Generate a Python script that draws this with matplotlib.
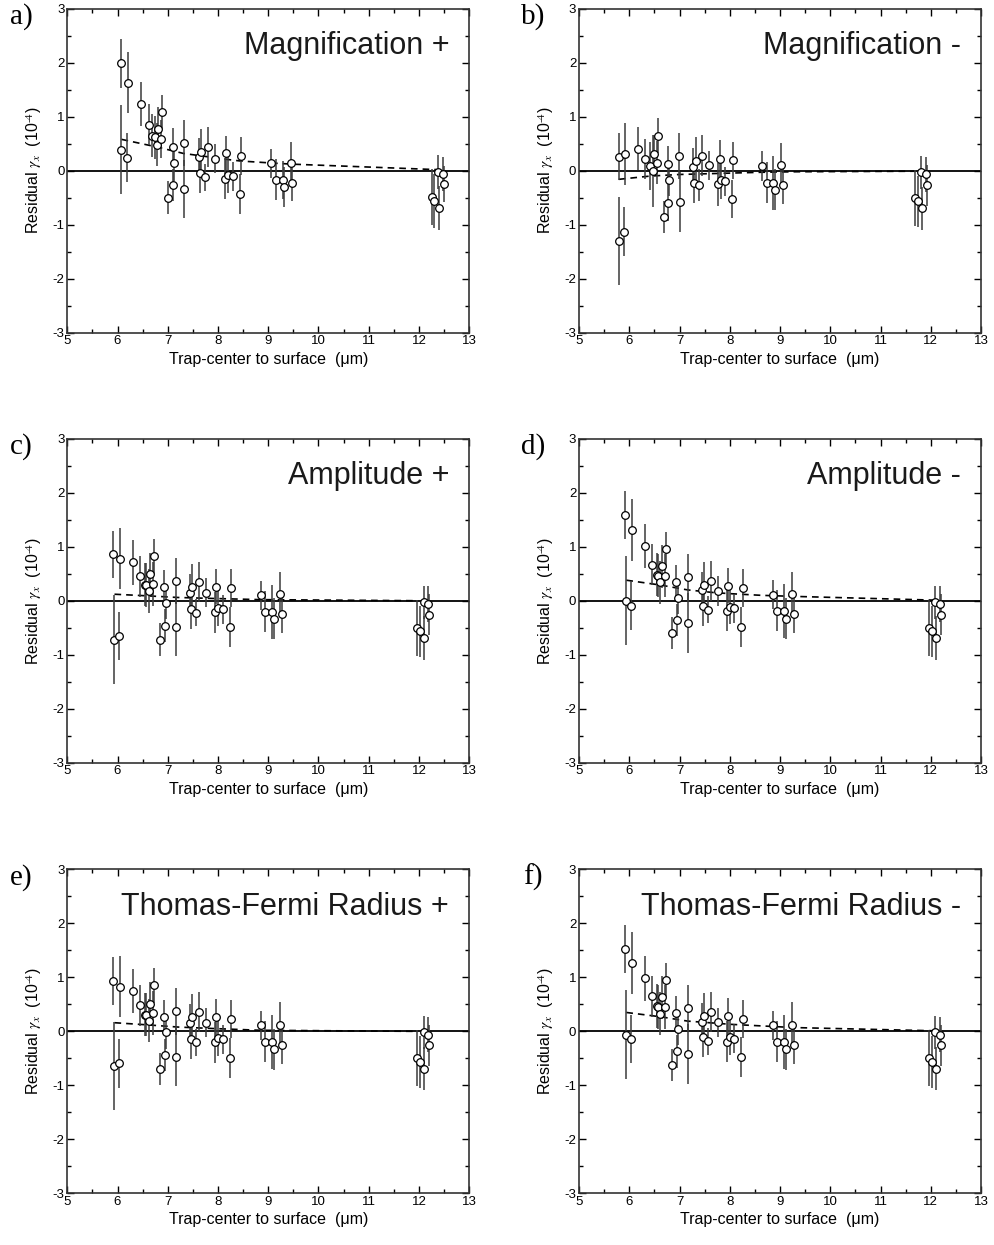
import numpy as np
import matplotlib
matplotlib.use("Agg")
import matplotlib.pyplot as plt
from matplotlib.ticker import MultipleLocator

plt.rcParams['font.family'] = ['Liberation Sans', 'DejaVu Sans']
plt.rcParams['mathtext.fontset'] = 'stix'
plt.rcParams['axes.unicode_minus'] = False

# ---- panel a) Magnification +
xa = [6.07, 6.20, 6.46, 6.62, 6.69, 6.74, 6.78, 6.81, 6.86, 6.88, 6.07, 6.18, 7.01, 7.10,
      7.10, 7.12, 7.32, 7.33, 7.63, 7.64, 7.67, 7.75, 7.81, 7.95, 8.14, 8.16, 8.20, 8.29,
      8.43, 8.45, 9.06, 9.16, 9.29, 9.32, 9.45, 9.48, 12.25, 12.30, 12.37, 12.39, 12.47, 12.50]
ya = [1.99, 1.63, 1.23, 0.85, 0.65, 0.62, 0.48, 0.78, 0.59, 1.09, 0.39, 0.24, -0.50, 0.44,
      -0.27, 0.15, 0.51, -0.34, 0.25, -0.05, 0.35, -0.12, 0.43, 0.22, -0.15, 0.32, -0.08, -0.10,
      -0.44, 0.27, 0.14, -0.17, -0.17, -0.31, 0.14, -0.23, -0.49, -0.56, -0.02, -0.69, -0.06, -0.25]
ea = [0.45, 0.57, 0.41, 0.38, 0.40, 0.40, 0.40, 0.40, 0.35, 0.32, 0.83, 0.45, 0.30, 0.35,
      0.30, 0.35, 0.43, 0.54, 0.35, 0.37, 0.43, 0.25, 0.37, 0.27, 0.38, 0.33, 0.33, 0.27,
      0.37, 0.35, 0.27, 0.38, 0.35, 0.37, 0.40, 0.33, 0.52, 0.50, 0.31, 0.40, 0.32, 0.33]
ma_x = [6.08, 6.78, 7.31, 8.17, 8.44, 9.10, 9.50, 12.35]
ma_y = [0.58, 0.44, 0.32, 0.21, 0.18, 0.14, 0.12, 0.02]

# ---- panel b) Magnification -
xb = [5.79, 5.79, 5.90, 5.92, 6.17, 6.31, 6.41, 6.47, 6.50, 6.55, 6.57, 6.69, 6.77, 6.77,
      6.79, 6.99, 7.00, 7.26, 7.28, 7.32, 7.39, 7.44, 7.58, 7.77, 7.80, 7.82, 7.91, 8.04,
      8.06, 8.64, 8.73, 8.86, 8.89, 9.02, 9.05, 11.69, 11.74, 11.81, 11.82, 11.90, 11.93]
yb = [-1.30, 0.26, -1.13, 0.31, 0.41, 0.21, 0.09, -0.01, 0.31, 0.15, 0.65, -0.86, -0.59, 0.13,
      -0.17, 0.27, -0.58, 0.07, -0.22, 0.18, -0.27, 0.28, 0.10, -0.25, 0.22, -0.17, -0.20, -0.52,
      0.19, 0.09, -0.22, -0.22, -0.35, 0.10, -0.27, -0.50, -0.57, -0.03, -0.70, -0.07, -0.27]
eb = [0.82, 0.44, 0.45, 0.57, 0.40, 0.37, 0.45, 0.67, 0.35, 0.40, 0.32, 0.30, 0.35, 0.32,
      0.30, 0.42, 0.55, 0.35, 0.38, 0.45, 0.30, 0.38, 0.27, 0.40, 0.35, 0.35, 0.27, 0.35,
      0.35, 0.28, 0.38, 0.50, 0.38, 0.42, 0.35, 0.52, 0.48, 0.30, 0.40, 0.33, 0.38]
mb_x = [5.79, 6.41, 7.00, 7.80, 8.60, 9.30, 11.69]
mb_y = [-0.16, -0.10, -0.07, -0.05, -0.03, -0.02, -0.01]

# ---- panels c) to f) share positions and error bars
x_cdef = [5.92, 5.93, 6.05, 6.03, 6.31, 6.45, 6.55, 6.57, 6.62, 6.65, 6.70, 6.72, 6.84, 6.93,
          6.94, 6.96, 7.16, 7.16, 7.44, 7.46, 7.49, 7.56, 7.63, 7.76, 7.95, 7.97, 8.00, 8.09,
          8.23, 8.26, 8.85, 8.94, 9.07, 9.11, 9.23, 9.27, 11.97, 12.02, 12.09, 12.10, 12.18, 12.20]
e_cdef = [0.44, 0.82, 0.57, 0.45, 0.41, 0.38, 0.40, 0.40, 0.40, 0.40, 0.40, 0.32, 0.30, 0.32,
          0.30, 0.30, 0.43, 0.55, 0.35, 0.37, 0.43, 0.25, 0.37, 0.27, 0.38, 0.33, 0.33, 0.27,
          0.37, 0.35, 0.27, 0.38, 0.50, 0.38, 0.42, 0.35, 0.52, 0.48, 0.30, 0.40, 0.33, 0.38]

yc = [0.86, -0.72, 0.78, -0.65, 0.71, 0.45, 0.30, 0.29, 0.18, 0.49, 0.31, 0.82, -0.72, 0.25,
      -0.46, -0.04, 0.36, -0.48, 0.14, -0.15, 0.25, -0.22, 0.34, 0.15, -0.21, 0.26, -0.14, -0.16,
      -0.49, 0.23, 0.10, -0.20, -0.20, -0.33, 0.12, -0.25, -0.50, -0.57, -0.03, -0.69, -0.06, -0.26]
mc_x = [5.94, 6.60, 7.20, 7.97, 8.85, 11.97]
mc_y = [0.12, 0.09, 0.06, 0.04, 0.02, 0.00]

yd = [1.59, 0.00, 1.31, -0.09, 1.01, 0.67, 0.48, 0.46, 0.34, 0.64, 0.46, 0.96, -0.60, 0.35,
      -0.36, 0.05, 0.43, -0.41, 0.19, -0.10, 0.29, -0.17, 0.37, 0.18, -0.19, 0.28, -0.11, -0.14,
      -0.48, 0.24, 0.11, -0.19, -0.19, -0.33, 0.12, -0.25, -0.50, -0.57, -0.03, -0.69, -0.06, -0.26]
md_x = [5.94, 6.62, 7.16, 7.69, 8.02, 8.62, 9.28, 12.10]
md_y = [0.38, 0.29, 0.20, 0.15, 0.13, 0.10, 0.08, 0.01]

ye = [0.93, -0.64, 0.83, -0.59, 0.75, 0.48, 0.31, 0.31, 0.20, 0.51, 0.34, 0.85, -0.70, 0.27,
      -0.44, -0.02, 0.37, -0.47, 0.15, -0.14, 0.26, -0.20, 0.35, 0.16, -0.20, 0.27, -0.13, -0.15,
      -0.49, 0.23, 0.11, -0.19, -0.19, -0.33, 0.12, -0.25, -0.49, -0.57, -0.02, -0.69, -0.06, -0.26]
me_x = [5.94, 6.60, 7.20, 7.97, 8.85, 11.97]
me_y = [0.16, 0.12, 0.08, 0.05, 0.02, 0.00]

yf = [1.53, -0.06, 1.27, -0.14, 0.98, 0.65, 0.47, 0.45, 0.33, 0.63, 0.45, 0.95, -0.62, 0.34,
      -0.37, 0.04, 0.43, -0.42, 0.18, -0.10, 0.28, -0.18, 0.36, 0.17, -0.19, 0.28, -0.10, -0.14,
      -0.48, 0.23, 0.11, -0.19, -0.19, -0.33, 0.12, -0.25, -0.49, -0.57, -0.02, -0.69, -0.06, -0.26]
mf_x = [5.94, 6.62, 7.16, 8.02, 9.28, 12.10]
mf_y = [0.35, 0.27, 0.19, 0.13, 0.07, 0.01]

panels = [
    ('a)', 'Magnification +', xa, ya, ea, ma_x, ma_y),
    ('b)', 'Magnification -', xb, yb, eb, mb_x, mb_y),
    ('c)', 'Amplitude +', x_cdef, yc, e_cdef, mc_x, mc_y),
    ('d)', 'Amplitude -', x_cdef, yd, e_cdef, md_x, md_y),
    ('e)', 'Thomas-Fermi Radius +', x_cdef, ye, e_cdef, me_x, me_y),
    ('f)', 'Thomas-Fermi Radius -', x_cdef, yf, e_cdef, mf_x, mf_y),
]

fig = plt.figure(figsize=(9.95, 12.45), dpi=100)
lefts = [0.0676, 0.582]
bottoms = [0.7328, 0.3874, 0.0415]
w, h = 0.404, 0.2602

for i, (letter, title, x, y, e, mx, my) in enumerate(panels):
    col = i % 2
    row = i // 2
    ax = fig.add_axes([lefts[col], bottoms[row], w, h])
    ax.axhline(0, color='black', lw=1.3, zorder=1)
    ax.plot(mx, my, color='black', ls=(0, (4, 3)), lw=1.2, zorder=2)
    ax.errorbar(x, y, yerr=e, fmt='o', ms=5.5, mfc='white', mec='black', mew=0.9,
                ecolor='#3a3a3a', elinewidth=1.1, capsize=0, zorder=3)
    ax.set_xlim(5, 13)
    ax.set_ylim(-3, 3)
    ax.xaxis.set_major_locator(MultipleLocator(1))
    ax.xaxis.set_minor_locator(MultipleLocator(0.5))
    ax.yaxis.set_major_locator(MultipleLocator(1))
    ax.yaxis.set_minor_locator(MultipleLocator(0.5))
    ax.tick_params(which='both', direction='in', top=True, right=True, labelsize=9.5, pad=2)
    ax.tick_params(which='major', length=5, width=1)
    ax.tick_params(which='minor', length=3, width=1)
    for s in ax.spines.values():
        s.set_linewidth(1.2)
        s.set_color('#333333')
    ax.set_xlabel('Trap-center to surface  (\u03bcm)', fontsize=11.5, labelpad=3)
    ax.set_ylabel('Residual $\\gamma_x$  (10$^{\\text{-4}}$)', fontsize=11.5, labelpad=6)
    ax.text(0.95, 0.885, title, transform=ax.transAxes, ha='right', va='center',
            fontsize=22, color='#1a1a1a')
    ax.text(-0.115, 0.975, letter, transform=ax.transAxes, ha='center', va='center',
            fontsize=21, family='Liberation Serif')

fig.savefig('out.png', dpi=100)
